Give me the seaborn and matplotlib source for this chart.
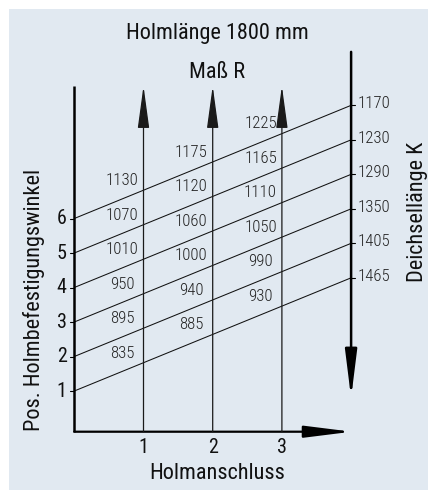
import numpy as np
import pandas as pd
import seaborn as sns
import matplotlib.pyplot as plt
from matplotlib import font_manager
from matplotlib.patches import Rectangle

# Nomogram values
positions = [1, 2, 3, 4, 5, 6]                      # Pos. Holmbefestigungswinkel
deichsel_k = [1465, 1405, 1350, 1290, 1230, 1170]    # Deichsellänge K (right scale)
anschluss = [1, 2, 3]                                # Holmanschluss
mass_r_1 = [835, 895, 950, 1010, 1070, 1130]
mass_r_2 = [885, 940, 1000, 1060, 1120, 1175]
mass_r_3 = [930, 990, 1050, 1110, 1165, 1225]
mass_r = [mass_r_1, mass_r_2, mass_r_3]

# geometry of the chart (data units)
x_right = 4.0      # position of the K scale
rise = 3.28        # how much each line climbs between left and right scale

sns.set_theme(style='white')

# pick a narrow font if one is installed
fonts = font_manager.fontManager.ttflist
family, stretch = 'DejaVu Sans', 'condensed'
for name, st in [('Roboto Condensed', 'normal'), ('Liberation Sans Narrow', 'normal'),
                 ('Noto Sans', 'condensed'), ('Open Sans', 'condensed')]:
    if any(f.name == name and (st == 'normal' or 'condensed' in str(f.stretch)) for f in fonts):
        family, stretch = name, st
        break
plt.rcParams['font.family'] = [family, 'DejaVu Sans']

W, H = 428, 490
fig = plt.figure(figsize=(W / 100, H / 100), dpi=100)
fig.patch.set_facecolor('white')
ax = fig.add_axes([0, 0, 1, 1])

# scale the font sizes so the title gets the reference width (183 px)
probe = fig.text(0, 0, 'Holmlänge 1800 mm', fontsize=16, fontstretch=stretch)
w = probe.get_window_extent(fig.canvas.get_renderer()).width
probe.remove()
fs = 16 * min(1.05, 183 / w)

# pixel -> data mapping
x0, ux = 74.3, 69.2
y0, uy = 425.5, 34.5
xlim = (-x0 / ux, (W - x0) / ux)
ylim = (-(H - y0) / uy, y0 / uy)

def px(x, y):
    return (x - x0) / ux, (y0 - y) / uy

# background panel
bx, by = px(9, H)
ax.add_patch(Rectangle((bx, by), (W - 9) / ux, (H - 9) / uy,
                       facecolor='#e1e9f1', edgecolor='none', zorder=0))

# sloped lines through the nomogram
rows = []
for p in positions:
    rows.append({'pos': p, 'x': 0.0, 'y': p})
    rows.append({'pos': p, 'x': x_right, 'y': p + rise})
df = pd.DataFrame(rows)
sns.lineplot(data=df, x='x', y='y', units='pos', estimator=None,
             color='#111111', lw=0.75, ax=ax, legend=False)
ax.set_xlim(*xlim)
ax.set_ylim(*ylim)
ax.axis('off')

y_bottom = -0.18
y_top_left = 9.84

# left axis and bottom axis with arrow
ax.plot([0, 0], [y_bottom, y_top_left], color='black', lw=1.8, solid_capstyle='butt')
ax.annotate('', xy=(x_right + 0.01, y_bottom), xytext=(0, y_bottom),
            arrowprops=dict(arrowstyle='-|>,head_length=2.4,head_width=0.3',
                            color='black', lw=1.6, shrinkA=0, shrinkB=0))

# vertical arrows for Holmanschluss 1..3
for a in anschluss:
    ax.annotate('', xy=(a, y_top_left), xytext=(a, y_bottom),
                arrowprops=dict(arrowstyle='-|>,head_length=2.2,head_width=0.3',
                                color='#1a1a1a', lw=0.9, shrinkA=0, shrinkB=0))

# right scale, pointing down
ax.annotate('', xy=(x_right, 0.80), xytext=(x_right, 10.83),
            arrowprops=dict(arrowstyle='-|>,head_length=2.4,head_width=0.3',
                            color='black', lw=1.8, shrinkA=0, shrinkB=0))

# ticks and labels on the left
for p in positions:
    ax.plot([-0.06, 0], [p, p], color='black', lw=0.8)
    ax.text(-0.11, p, str(p), ha='right', va='center', fontsize=fs * 0.9,
            fontstretch=stretch, color='#111111')

# ticks and labels on the right
for p, k in zip(positions, deichsel_k):
    ax.plot([x_right, x_right + 0.06], [p + rise, p + rise], color='black', lw=0.8)
    ax.text(x_right + 0.09, p + rise + 0.05, str(k), ha='left', va='center',
            fontsize=fs * 0.75, fontstretch=stretch, fontweight='light',
            color='#222222')

# Maß R values next to each crossing
for a, vals in zip(anschluss, mass_r):
    for p, v in zip(positions, vals):
        yc = p + rise * a / x_right
        ax.text(a - 0.31, yc + 0.28, str(v), ha='center', va='center',
                fontsize=fs * 0.75, fontstretch=stretch, fontweight='light',
                color='#222222')

# bottom tick labels
for a in anschluss:
    ax.text(a, -0.65, str(a), ha='center', va='center', fontsize=fs * 0.9,
            fontstretch=stretch, color='#111111')

# titles
for label, (x, y), rot in [('Holmlänge 1800 mm', (217, 33), 0),
                           ('Maß R', (217, 72), 0),
                           ('Holmanschluss', (217, 473), 0),
                           ('Pos. Holmbefestigungswinkel', (34, 300), 90),
                           ('Deichsellänge K', (418, 212), 90)]:
    tx, ty = px(x, y)
    ax.text(tx, ty, label, ha='center', va='center', rotation=rot,
            fontsize=fs, fontstretch=stretch, color='#111111')

fig.savefig('out.png', dpi=100, facecolor='white')
